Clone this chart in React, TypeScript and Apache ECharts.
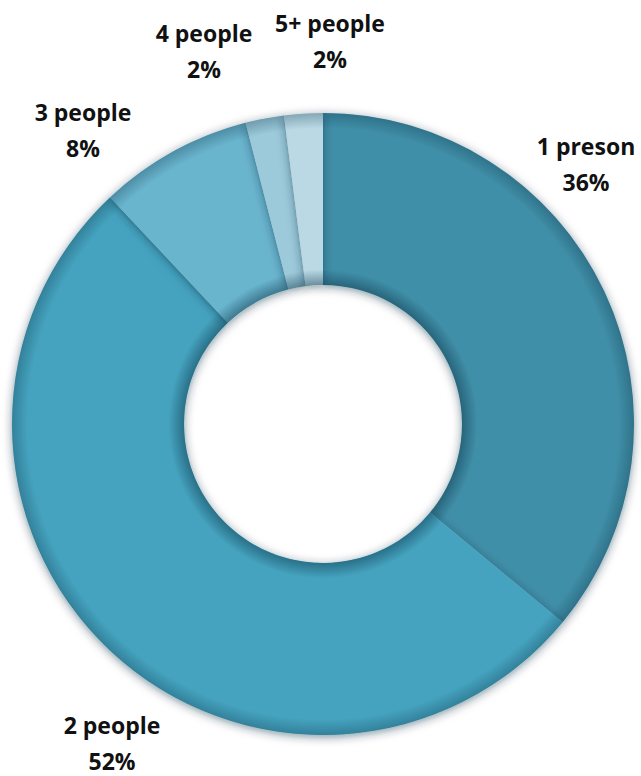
import React, { useEffect, useRef } from "react";
import * as echarts from "echarts";

const categories = ["1 preson", "2 people", "3 people", "4 people", "5+ people"];
const shares = [36, 52, 8, 2, 2];
const colors = ["#3F8FA8", "#45A3BF", "#6AB5CE", "#9CCADB", "#BAD9E5"];
// label anchor (center of the two-line block), layout only
const labelPos: [number, number][] = [
  [586, 164],
  [112, 743],
  [83, 130],
  [204, 51],
  [330, 41],
];

const CX = 323;
const CY = 424;
const R_IN = 139;
const R_OUT = 311;

export default function App() {
  const ref = useRef<HTMLDivElement>(null);
  useEffect(() => {
    document.body.style.margin = "0";
    const chart = echarts.init(ref.current!, null, { renderer: "svg" });
    const ratio = R_IN / R_OUT;
    chart.setOption({
      animation: false,
      backgroundColor: "#ffffff",
      series: [
        {
          type: "pie",
          center: [CX, CY],
          radius: [R_IN, R_OUT],
          startAngle: 90,
          clockwise: true,
          avoidLabelOverlap: false,
          data: categories.map((c, i) => ({
            name: c,
            value: shares[i],
            itemStyle: { color: colors[i] },
          })),
          itemStyle: {
            borderWidth: 0,
            shadowBlur: 10,
            shadowColor: "rgba(0,40,60,0.5)",
            shadowOffsetX: 0,
            shadowOffsetY: 2,
          },
          label: {
            show: true,
            position: "outside",
            formatter: (p: any) => `${p.name}\n${p.value}%`,
            fontFamily: "'Open Sans', sans-serif",
            fontWeight: "bold",
            fontSize: 23,
            lineHeight: 36,
            color: "#111111",
            align: "center",
          },
          labelLine: { show: false },
          labelLayout: (params: any) => {
            const [x, y] = labelPos[params.dataIndex];
            return { x, y, align: "center", verticalAlign: "middle" };
          },
        },
        {
          type: "pie",
          silent: true,
          center: [CX, CY],
          radius: [R_IN, R_OUT],
          startAngle: 90,
          label: { show: false },
          labelLine: { show: false },
          data: [
            {
              value: 1,
              name: "bevel",
              itemStyle: {
                color: {
                  type: "radial",
                  x: CX,
                  y: CY,
                  r: R_OUT,
                  global: true,
                  colorStops: [
                    { offset: ratio, color: "rgba(10,50,70,0.45)" },
                    { offset: ratio + 0.05, color: "rgba(10,50,70,0.0)" },
                    { offset: 0.95, color: "rgba(10,50,70,0.0)" },
                    { offset: 1, color: "rgba(10,50,70,0.3)" },
                  ],
                },
              },
            },
          ],
        },
      ],
    });
    return () => chart.dispose();
  }, []);
  return <div ref={ref} style={{ width: 641, height: 776 }} />;
}
